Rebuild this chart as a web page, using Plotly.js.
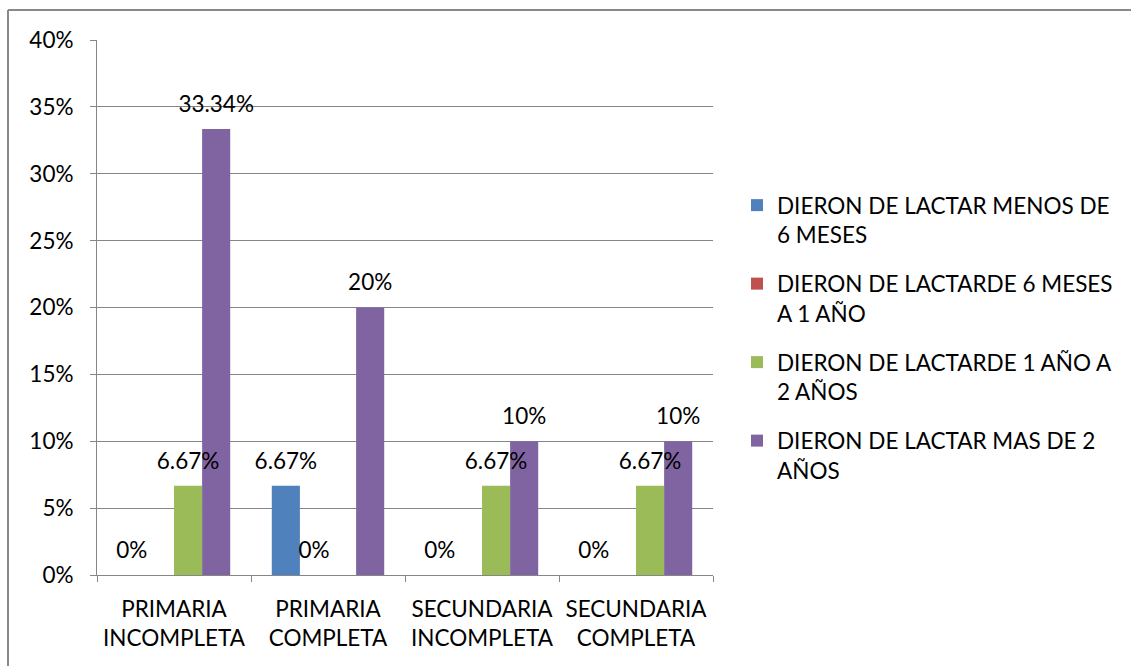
<!DOCTYPE html>
<html>
<head>
<meta charset="utf-8">
<script src="https://cdn.plot.ly/plotly-3.0.1.min.js"></script>
<style>
  html, body { margin: 0; padding: 0; background: #fff; }
  #chart { width: 1131px; height: 666px; }
</style>
</head>
<body>
<div id="chart"></div>
<script>
var categories = ['PRIMARIA<br>INCOMPLETA', 'PRIMARIA<br>COMPLETA', 'SECUNDARIA<br>INCOMPLETA', 'SECUNDARIA<br>COMPLETA'];
var seriesNames = [
  'DIERON DE LACTAR MENOS DE<br>6 MESES',
  'DIERON DE LACTARDE 6 MESES<br>A 1 AÑO',
  'DIERON DE LACTARDE 1 AÑO A<br>2 AÑOS',
  'DIERON DE LACTAR MAS DE 2<br>AÑOS'
];
var menos6Meses = [0, 0.0667, 0, 0];
var seisMesesA1Anio = [null, 0, null, null];
var unoA2Anios = [0.0667, null, 0.0667, 0.0667];
var masDe2Anios = [0.3334, 0.20, 0.10, 0.10];
var yTicks = [0, 0.05, 0.10, 0.15, 0.20, 0.25, 0.30, 0.35, 0.40];

var colors = ['#4F81BD', '#C0504D', '#9BBB59', '#8064A2'];
var FONT = 'Lato, "Liberation Sans", sans-serif';
var FS = 22.5;

function fmt(v) {
  if (v === null) return '';
  var s = (Math.round(v * 10000) / 100).toString();
  return s + '%';
}

var seriesValues = [menos6Meses, seisMesesA1Anio, unoA2Anios, masDe2Anios];
var barTraces = seriesValues.map(function (vals, i) {
  return {
    type: 'bar',
    name: seriesNames[i],
    x: categories,
    y: vals,
    offsetgroup: 'o' + i,
    marker: { color: colors[i] },
    legendgroup: 'g' + i,
    hoverinfo: 'skip'
  };
});
// data labels, drawn above every bar, grouped like the bars
var labelTraces = seriesValues.map(function (vals, i) {
  return {
    type: 'scatter',
    mode: 'markers+text',
    x: categories,
    y: vals,
    offsetgroup: 'o' + i,
    text: vals.map(fmt),
    textposition: 'top center',
    textfont: { family: FONT, size: FS, color: '#000' },
    marker: { size: 17, color: 'rgba(0,0,0,0)' },
    cliponaxis: false,
    showlegend: false,
    hoverinfo: 'skip'
  };
});

var W = 1131, H = 666, L = 97, R = 713, T = 40, B = 575;
function px(x) { return (x - L) / (R - L); }
function py(y) { return (B - y) / (B - T); }

var layout = {
  width: W, height: H,
  margin: { l: L, r: W - R, t: T, b: H - B, pad: 0 },
  paper_bgcolor: '#fff', plot_bgcolor: '#fff',
  barmode: 'group',
  bargap: 0.27,
  bargroupgap: 0,
  scattermode: 'group',
  scattergap: 0.27,
  showlegend: true,
  font: { family: FONT, size: FS, color: '#000' },
  xaxis: {
    type: 'category',
    showline: true, linecolor: '#868686', linewidth: 1,
    ticks: 'outside', tickson: 'boundaries', ticklen: 6, tickcolor: '#868686',
    showgrid: false, zeroline: false,
    tickfont: { family: FONT, size: FS, color: '#000' },
    ticklabelstandoff: 14
  },
  yaxis: {
    range: [0, 0.4],
    tickvals: yTicks,
    tickformat: '.0%',
    showline: true, linecolor: '#868686', linewidth: 1,
    ticks: 'outside', ticklen: 6, tickcolor: '#868686',
    showgrid: true, gridcolor: '#868686', gridwidth: 1,
    zeroline: false,
    tickfont: { family: FONT, size: FS, color: '#000' },
    ticklabelstandoff: 12
  },
  legend: {
    x: px(737), y: py(184), xanchor: 'left', yanchor: 'top',
    traceorder: 'grouped',
    tracegroupgap: 17,
    valign: 'top',
    font: { family: FONT, size: FS, color: '#000' },
    bgcolor: 'rgba(0,0,0,0)'
  },
  shapes: [
    { type: 'line', xref: 'paper', yref: 'paper', x0: px(8), x1: px(1131), y0: py(10), y1: py(10), line: { color: '#898989', width: 2 } },
    { type: 'line', xref: 'paper', yref: 'paper', x0: px(8), x1: px(8), y0: py(10), y1: py(666), line: { color: '#898989', width: 2 } }
  ]
};

Plotly.newPlot('chart', barTraces.concat(labelTraces), layout, { displayModeBar: false, staticPlot: true });
</script>
</body>
</html>
